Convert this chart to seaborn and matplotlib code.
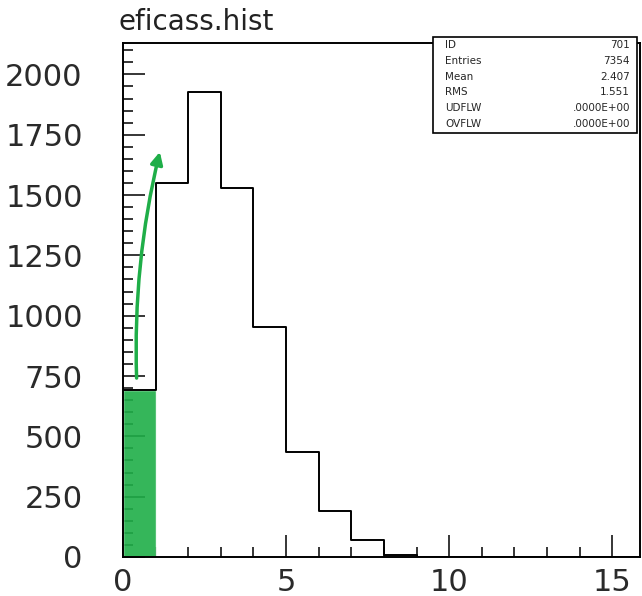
import numpy as np
import matplotlib
matplotlib.use("Agg")
import matplotlib.pyplot as plt
import seaborn as sns

# integer-valued entries, one bin per unit
values = [0, 1, 2, 3, 4, 5, 6, 7, 8]
counts = [690, 1550, 1925, 1530, 955, 435, 190, 70, 9]
bin_edges = list(range(0, 17))

stat_names = ["ID", "Entries", "Mean", "RMS", "UDFLW", "OVFLW"]
stat_values = ["701", "7354", "2.407", "1.551", ".0000E+00", ".0000E+00"]

x_ticks = [0, 5, 10, 15]
y_ticks = [0, 250, 500, 750, 1000, 1250, 1500, 1750, 2000]

sns.set_style("white")
plt.rcParams['font.family'] = ['DejaVu Sans']

fig = plt.figure(figsize=(6.42, 5.96), dpi=100)
ax = fig.add_axes([123 / 642, 1 - 557 / 596, (640 - 123) / 642, (557 - 43) / 596])

green = "#1fae48"
# hand-drawn marker over the first bin
ax.bar(values[0], counts[0], width=1, align="edge", color=green, alpha=0.9, zorder=1)
ax.annotate("", xy=(1.15, 1690), xytext=(0.42, 730),
            arrowprops=dict(arrowstyle="-|>", color=green, lw=2.5,
                            connectionstyle="arc3,rad=-0.07", mutation_scale=18),
            zorder=3)

sns.histplot(x=values, weights=counts, bins=bin_edges, element="step", fill=False,
             color="black", linewidth=1.4, ax=ax, zorder=2)

ax.set_xlim(0, 15.85)
ax.set_ylim(0, 2130)
ax.set_xticks(x_ticks)
ax.set_xticks(np.arange(0, 16, 1), minor=True)
ax.set_yticks(y_ticks)
ax.set_yticks(np.arange(0, 2101, 50), minor=True)
ax.tick_params(axis="both", which="both", direction="in", color="black", width=1.1,
               bottom=True, left=True, top=False, right=False)
ax.tick_params(axis="both", which="major", length=16, labelsize=22, labelcolor="#2a2a2a")
ax.tick_params(axis="both", which="minor", length=7.5)
ax.tick_params(axis="y", which="major", pad=29)
ax.tick_params(axis="x", which="major", pad=8)
ax.set_xlabel("")
ax.set_ylabel("")
for s in ax.spines.values():
    s.set_color("black")
    s.set_linewidth(1.4)

fig.text(118 / 642, 1 - 30 / 596, "eficass.hist", fontsize=20, color="#222222",
         ha="left", va="baseline")

# statistics box
bx0, bx1, by0, by1 = 433, 637, 37, 133
box = plt.Rectangle((bx0 / 642, 1 - by1 / 596), (bx1 - bx0) / 642, (by1 - by0) / 596,
                    transform=fig.transFigure, fill=True, facecolor="white",
                    edgecolor="black", linewidth=1.2, zorder=5)
fig.patches.append(box)
for i, (name, val) in enumerate(zip(stat_names, stat_values)):
    yy = 1 - (45 + i * 15.8) / 596
    fig.text(445 / 642, yy, name, fontsize=7.5, ha="left", va="center", zorder=6)
    fig.text(630 / 642, yy, val, fontsize=7.5, ha="right", va="center", zorder=6)

fig.savefig("out.png", dpi=100)
